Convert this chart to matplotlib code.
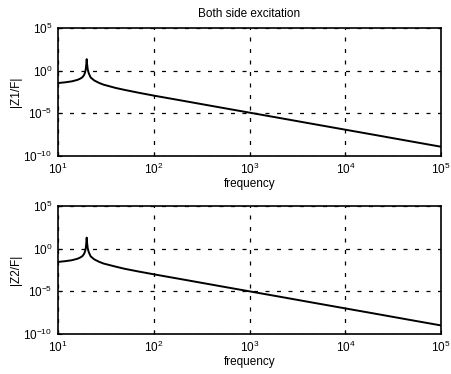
import matplotlib
matplotlib.use("Agg")
import matplotlib.pyplot as plt
from matplotlib.ticker import LogLocator, NullLocator, FixedLocator

plt.rcParams['font.family'] = ['Liberation Sans', 'DejaVu Sans']
plt.rcParams['mathtext.fontset'] = 'custom'
plt.rcParams['mathtext.rm'] = 'Liberation Sans'
plt.rcParams['mathtext.it'] = 'Liberation Sans'

# frequency points
freq = [10, 12, 14, 16, 17, 18, 18.8, 19.3, 19.6, 19.8, 20, 20.2, 20.5, 21, 22,
        24, 27, 30, 40, 50, 70, 100, 200, 500, 1000, 2000, 5000, 10000,
        20000, 50000, 100000]

# |Z1/F| (log10 values estimated from the top panel)
z1_log = [-1.45, -1.36, -1.25, -1.08, -0.95, -0.78, -0.5, -0.15, 0.25, 0.75, 1.35,
          0.75, 0.15, -0.3, -0.8, -1.15, -1.44, -1.64, -2.02, -2.26, -2.59,
          -2.92, -3.52, -4.32, -4.92, -5.52, -6.32, -6.92, -7.52, -8.32, -8.92]

# |Z2/F| (log10 values estimated from the bottom panel)
z2_log = [-1.55, -1.46, -1.35, -1.18, -1.05, -0.88, -0.6, -0.25, 0.15, 0.65, 1.3,
          0.65, 0.05, -0.4, -0.9, -1.25, -1.54, -1.74, -2.1, -2.36, -2.68,
          -3.0, -3.6, -4.4, -5.0, -5.6, -6.4, -7.0, -7.6, -8.4, -9.0]

ylabels = ['|Z1/F|', '|Z2/F|']
yticks = [1e-10, 1e-5, 1e0, 1e5]

fig = plt.figure(figsize=(4.52, 3.74), dpi=100)
ax1 = fig.add_axes([0.128, 0.583, 0.848, 0.342])
ax2 = fig.add_axes([0.128, 0.107, 0.848, 0.342])

for ax, vals, lab in zip([ax1, ax2], [z1_log, z2_log], ylabels):
    ax.plot(freq, [10 ** v for v in vals], color='black', lw=1.4)
    ax.set_xscale('log')
    ax.set_yscale('log')
    ax.set_xlim(10, 1e5)
    ax.set_ylim(1e-10, 1e5)
    ax.xaxis.set_major_locator(LogLocator(base=10, numticks=10))
    ax.xaxis.set_minor_locator(NullLocator())
    ax.yaxis.set_major_locator(FixedLocator(yticks))
    ax.yaxis.set_minor_locator(NullLocator())
    ax.grid(True, color='black', linestyle=(0, (3.2, 6)), linewidth=0.9)
    ax.tick_params(direction='in', length=3, labelsize=8.5, width=0.8, pad=4)
    for s in ax.spines.values():
        s.set_linewidth(1.2)
    ax.set_ylabel(lab, fontsize=8.5, labelpad=1)
    ax.set_xlabel('frequency', fontsize=8.5, labelpad=1)

ax1.set_title('Both side excitation', fontsize=8.5, pad=8)

fig.savefig('out.png', dpi=100)
